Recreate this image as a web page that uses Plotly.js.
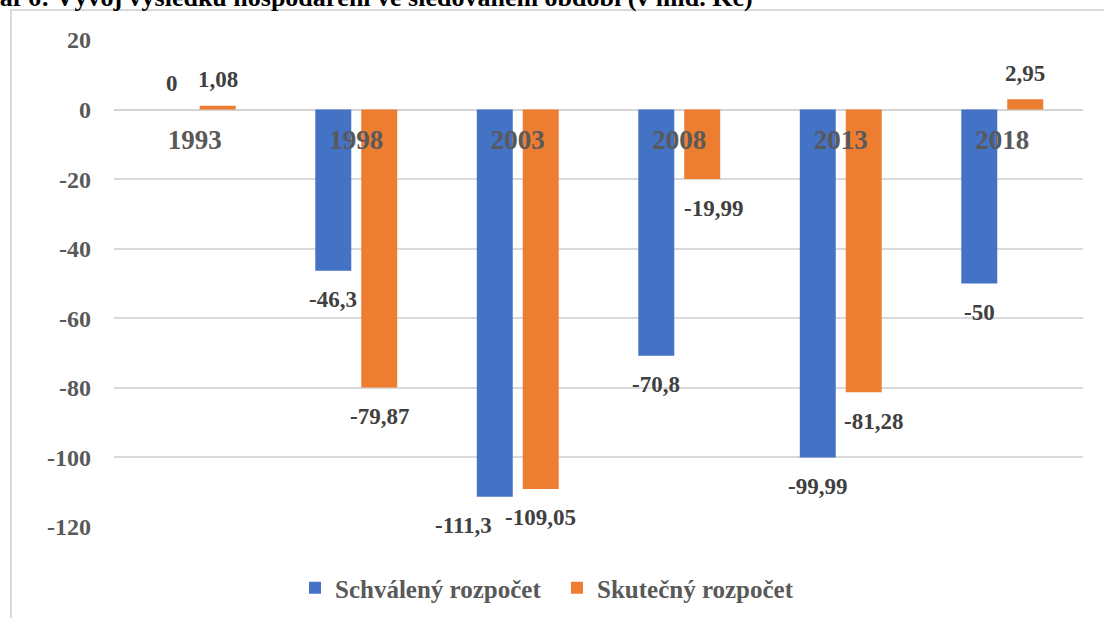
<!DOCTYPE html>
<html>
<head>
<meta charset="utf-8">
<script src="https://cdn.plot.ly/plotly-3.0.1.min.js"></script>
<style>html,body{margin:0;padding:0;background:#fff;}#chart{width:1104px;height:618px;}</style>
</head>
<body>
<div id="chart"></div>
<script>
// ---- data ----
const categories = ['1993', '1998', '2003', '2008', '2013', '2018'];
const schvaleny = [0, -46.3, -111.3, -70.8, -99.99, -50];
const skutecny = [1.08, -79.87, -109.05, -19.99, -81.28, 2.95];
const seriesNames = ['Schválený rozpočet', 'Skutečný rozpočet'];
const yTicks = [20, 0, -20, -40, -60, -80, -100, -120];
const chartTitle = 'Graf 6: Vývoj výsledku hospodaření ve sledovaném období (v mld. Kč)';

// ---- style ----
const W = 1104, H = 618;
const M = {l: 114, r: 21, t: 40, b: 91, autoexpand: false};
const plotW = W - M.l - M.r, plotH = H - M.t - M.b;
const yRange = [-120, 20];
const serif = 'Liberation Serif, Times New Roman, serif';
const grey = '#595959';
const colors = ['#4472C4', '#ED7D31'];
const px2paperX = p => (p - M.l) / plotW;
const px2paperY = p => (H - M.b - p) / plotH;

const traces = [schvaleny, skutecny].map((vals, i) => ({
  type: 'bar',
  name: seriesNames[i],
  x: categories,
  y: vals,
  marker: {color: colors[i]},
  hoverinfo: 'skip'
}));

const annotations = [];
// data labels (Excel "outside end"), a few nudged as in the original
const nudge = {'0-2003': -31, '1-2008': 11, '1-2013': 10};
[schvaleny, skutecny].forEach((vals, i) => {
  vals.forEach((v, j) => {
    annotations.push({
      x: j, y: v, xref: 'x', yref: 'y',   // x = category serial number
      text: String(v).replace('.', ','),
      showarrow: false,
      xshift: (i === 0 ? -23 : 23) + (nudge[i + '-' + categories[j]] || 0),
      yshift: v >= 0 ? 26 : -29,
      xanchor: 'center', yanchor: 'middle',
      font: {family: serif, size: 23, color: '#404040', weight: 'bold'}
    });
  });
});
// chart title (cut off by the top edge in the original)
annotations.push({
  text: chartTitle, showarrow: false,
  xref: 'paper', yref: 'paper',
  x: px2paperX(-34), y: px2paperY(-2),
  xanchor: 'left', yanchor: 'middle',
  font: {family: serif, size: 26, color: '#000', weight: 'bold'}
});

const layout = {
  width: W, height: H,
  margin: M,
  paper_bgcolor: '#fff', plot_bgcolor: '#fff',
  barmode: 'group', bargap: 0.431, bargroupgap: 0.217,
  showlegend: true,
  legend: {
    orientation: 'h', x: px2paperX(295), xanchor: 'left',
    y: px2paperY(588), yanchor: 'middle',
    font: {family: serif, size: 25, color: grey, weight: 'bold'},
    entrywidth: 217, entrywidthmode: 'pixels',
    bgcolor: 'rgba(0,0,0,0)'
  },
  xaxis: {
    type: 'category', categoryorder: 'array', categoryarray: categories,
    range: [-0.5, categories.length - 0.5], autorange: false,
    anchor: 'free', position: (0 - yRange[0]) / (yRange[1] - yRange[0]),
    showgrid: false, showline: false, zeroline: false, ticks: '',
    ticklabelstandoff: 11, automargin: false,
    tickfont: {family: serif, size: 27, color: grey, weight: 'bold'},
    fixedrange: true
  },
  yaxis: {
    range: yRange, tickvals: yTicks, ticktext: yTicks.map(String),
    showgrid: true, gridcolor: '#d9d9d9', gridwidth: 2,
    zeroline: true, zerolinecolor: '#d4d4d4', zerolinewidth: 2,
    showline: false, ticks: '', ticklabelstandoff: 22, automargin: false,
    tickfont: {family: serif, size: 24, color: grey, weight: 'bold'},
    fixedrange: true
  },
  shapes: [{
    type: 'rect', xref: 'paper', yref: 'paper', layer: 'below',
    x0: px2paperX(11), x1: px2paperX(W + 20),
    y0: px2paperY(H + 20), y1: px2paperY(10),
    line: {color: '#d9d9d9', width: 2}, fillcolor: 'rgba(0,0,0,0)'
  }],
  annotations: annotations,
  font: {family: serif, color: grey}
};

Plotly.newPlot('chart', traces, layout, {displayModeBar: false, staticPlot: true});
</script>
</body>
</html>
